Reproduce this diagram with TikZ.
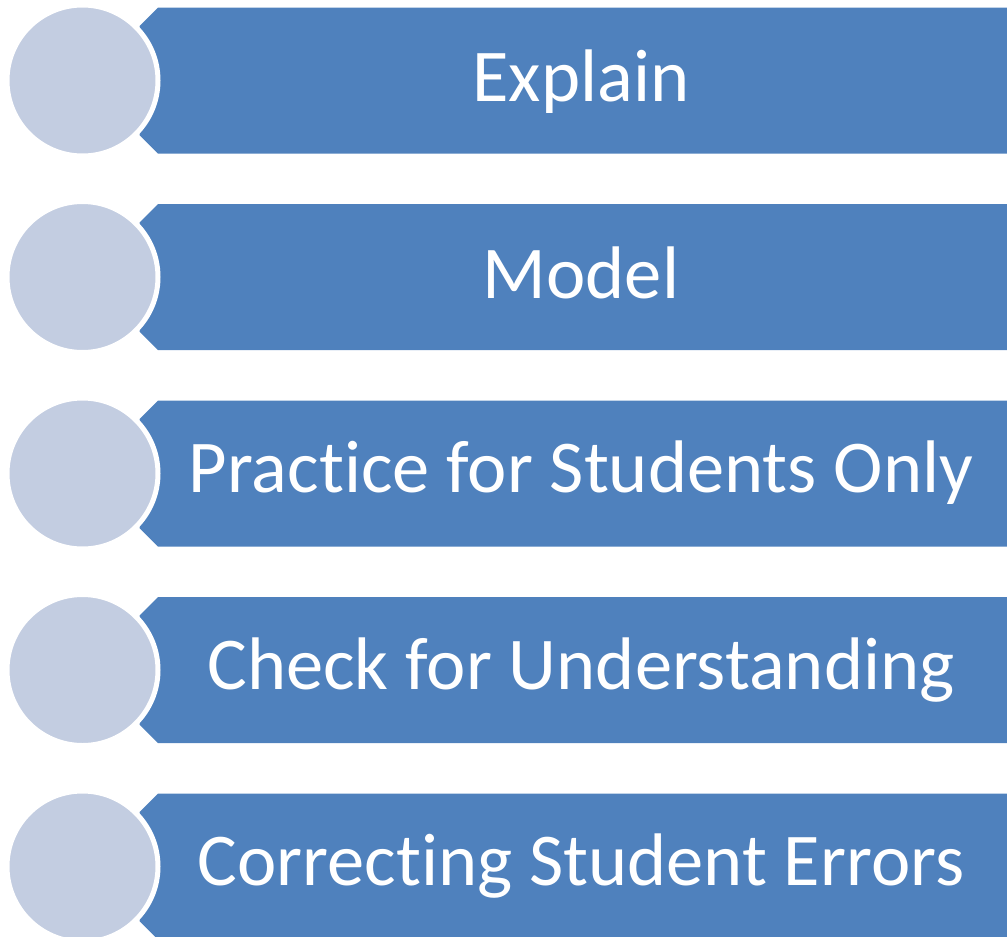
\documentclass[tikz,border=0pt]{standalone}
\usepackage{fontspec}
\setmainfont[Ligatures=NoCommon]{Carlito}
\definecolor{barblue}{HTML}{4F81BD}
\definecolor{dotblue}{HTML}{C3CDE1}
\begin{document}
\begin{tikzpicture}[x=1pt,y=-1pt,
  bar/.style={fill=barblue,draw=none},
  dot/.style={circle,fill=dotblue,draw=white,line width=5pt,minimum size=151pt,inner sep=0pt},
  label/.style={text=white,anchor=base,inner sep=0pt,font=\fontsize{74.5}{80}\selectfont}]
\useasboundingbox (0,0) rectangle (1007,937);
\foreach \i/\txt/\bl in {0/Explain/101.7,1/Model/298.2,2/Practice for Students Only/492.7,3/Check for Understanding/689.2,4/Correcting Student Errors/885.7}{
  \pgfmathsetmacro{\t}{7.5+196.5*\i}
  \pgfmathsetmacro{\b}{\t+146}
  \pgfmathsetmacro{\m}{\t+73}
  \path[bar] (158,\t) -- (1007,\t) -- (1007,\b) -- (158,\b) -- (139.5,\b-18.5) -- (139.5,\t+18.5) -- cycle;
  \node[label] (t\i) at (581,\bl) {\txt};
  \node[dot] (c\i) at (82.5,\m) {};
}
\end{tikzpicture}
\end{document}
